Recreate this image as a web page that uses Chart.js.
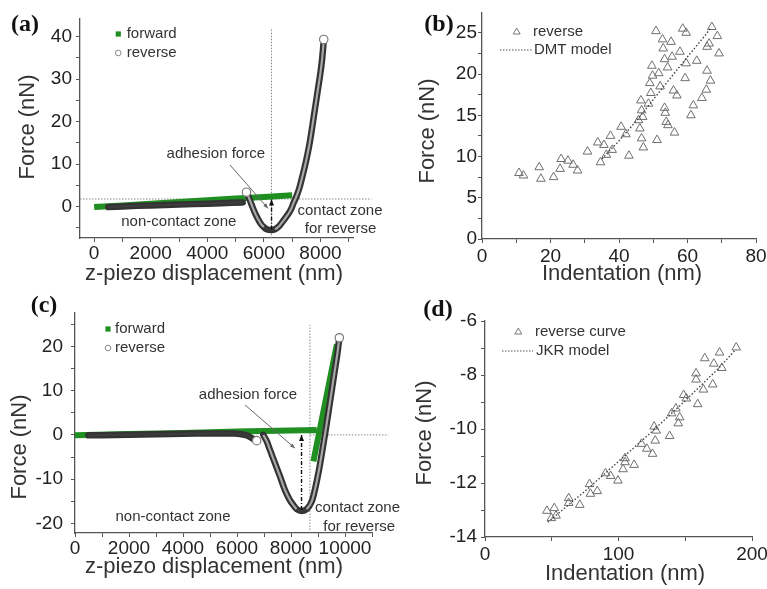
<!DOCTYPE html>
<html>
<head>
<meta charset="utf-8">
<title>AFM force curves</title>
<script src="https://cdn.jsdelivr.net/npm/chart.js@4.4.1/dist/chart.umd.min.js"></script>
<style>
html, body { margin:0; padding:0; background:#ffffff; }
#fig { position:relative; width:767px; height:589px; overflow:hidden; background:#ffffff; }
#fig canvas { position:absolute; left:0; top:0; width:767px; height:589px; }
</style>
</head>
<body>
<div id="fig">
  <canvas id="pa" width="767" height="589"></canvas>
  <canvas id="pb" width="767" height="589"></canvas>
  <canvas id="pc" width="767" height="589"></canvas>
  <canvas id="pd" width="767" height="589"></canvas>
</div>
<script>
// ---------------- DATA ----------------
// Panel (a): force vs z-piezo displacement
const aForwardX = [0, 1000, 2000, 3000, 4000, 5000, 6000, 7000];
const aForwardY = [-0.1, 0.3, 0.7, 1.1, 1.5, 1.9, 2.3, 2.7];
const aReverseX = [500, 1500, 2500, 3500, 4500, 5250, 5320, 5385, 5500, 5600, 5700, 5800, 5900, 6000, 6100, 6250, 6400, 6560, 6700, 6800, 6900, 6975, 7050, 7150, 7250, 7330, 7420, 7500, 7600, 7680, 7760, 7840, 7920, 8000, 8060, 8110];
const aReverseY = [-0.1, 0.2, 0.4, 0.6, 0.8, 1.0, null, 3.4, 1.6, -0.1, -1.7, -3.0, -4.1, -4.8, -5.3, -5.5, -5.3, -4.4, -3.2, -2.3, -1.3, -0.4, 0.9, 2.4, 4.3, 6.3, 8.7, 11.0, 14.3, 17.5, 21.0, 24.5, 28.0, 31.5, 34.8, 38.5];
const aReverseEndX = [5385, 8115];
const aReverseEndY = [3.4, 39.3];
const aRefHX = [-500, 9800];
const aRefHY = [1.8, 1.8];
const aRefVX = [6270, 6270];
const aRefVY = [-7.4, 42];
const aXTicks = [0, 1000, 2000, 3000, 4000, 5000, 6000, 7000, 8000, 9000];
const aXLabels = [0, 2000, 4000, 6000, 8000];
const aYTicks = [-5, 0, 5, 10, 15, 20, 25, 30, 35, 40];
const aYLabels = [0, 10, 20, 30, 40];

// Panel (b): indentation fit (DMT)
const bReverseX = [10.8, 12.1, 16.7, 17.2, 20.9, 22.8, 23.1, 25.1, 26.6, 27.9, 30.8, 33.8, 34.6, 35.6, 36.3, 37.5, 38.0, 40.6, 42.0, 42.9, 45.7, 46.1, 46.4, 46.6, 46.6, 46.9, 47.1, 48.6, 49.0, 49.3, 49.8, 49.6, 50.8, 51.1, 51.6, 52.0, 52.7, 52.9, 53.3, 53.3, 53.5, 53.8, 54.2, 54.3, 55.2, 55.5, 55.9, 56.2, 56.9, 57.8, 58.6, 59.3, 59.6, 59.6, 61.0, 61.7, 62.7, 64.2, 65.5, 65.7, 65.7, 66.3, 66.7, 67.1, 68.7, 69.2];
const bReverseY = [8.0, 7.7, 8.7, 7.3, 7.5, 8.5, 9.7, 9.5, 9.0, 8.3, 10.6, 11.7, 9.3, 11.4, 10.2, 12.5, 10.8, 13.6, 12.7, 10.1, 14.4, 13.4, 16.8, 15.6, 12.2, 14.8, 11.1, 16.4, 18.9, 17.7, 19.8, 21.0, 25.2, 12.0, 20.1, 18.5, 24.2, 23.1, 21.8, 15.9, 15.3, 14.2, 20.8, 13.8, 23.9, 22.1, 18.0, 12.9, 17.4, 22.7, 25.5, 19.5, 25.0, 21.3, 15.0, 16.2, 21.6, 17.1, 18.1, 20.4, 23.3, 23.7, 19.2, 25.7, 24.6, 22.5];
const bModelX = [35, 40, 45, 50, 55, 60, 65, 67];
const bModelY = [9.7, 11.9, 14.3, 16.9, 19.5, 22.1, 24.6, 25.7];
const bXTicks = [0, 10, 20, 30, 40, 50, 60, 70, 80];
const bXLabels = [0, 20, 40, 60, 80];
const bYTicks = [0, 2.5, 5, 7.5, 10, 12.5, 15, 17.5, 20, 22.5, 25];
const bYLabels = [0, 5, 10, 15, 20, 25];

// Panel (c): force vs z-piezo displacement
const cForwardX = [0, 2000, 4000, 6000, 8950, 8900, 8830, 9700];
const cForwardY = [-0.1, 0.2, 0.45, 0.75, 1.1, null, -6.0, 20.5];
const cReverseX = [500, 1500, 2500, 3500, 4500, 5500, 5900, 6360, 6550, 6730, 6850, 6975, 7100, 7222, 7407, 7593, 7778, 7963, 8100, 8210, 8395, 8580, 8765, 8900, 9020, 9120, 9220, 9320, 9420, 9520, 9620, 9720, 9790];
const cReverseY = [-0.1, 0.0, 0.1, 0.2, 0.3, 0.35, 0.3, -0.1, -0.7, -1.3, null, 0.0, -1.4, -3.4, -6.4, -9.4, -12.5, -14.8, -16.0, -16.8, -17.2, -16.8, -15.1, -12.0, -8.5, -5.0, -1.3, 2.5, 6.5, 10.5, 14.5, 18.5, 22.0];
const cReverseEndX = [6730, 9790];
const cReverseEndY = [-1.3, 22.0];
const cRefHX = [8700, 11600];
const cRefHY = [0, 0];
const cRefVX = [8700, 8700];
const cRefVY = [-22.2, 24.9];
const cXTicks = [0, 1000, 2000, 3000, 4000, 5000, 6000, 7000, 8000, 9000, 10000, 11000];
const cXLabels = [0, 2000, 4000, 6000, 8000, 10000];
const cYTicks = [-20, -15, -10, -5, 0, 5, 10, 15, 20, 25];
const cYLabels = [-20, -10, 0, 10, 20];

// Panel (d): indentation fit (JKR)
const dReverseX = [46.4, 49.7, 51.9, 53.2, 62.7, 62.7, 71.0, 78.3, 79.0, 84.1, 90.3, 94.1, 99.6, 103.4, 104.9, 104.9, 111.7, 117.2, 121.2, 125.5, 126.7, 127.5, 128.2, 138.3, 139.8, 143.0, 144.8, 145.8, 148.8, 150.8, 158.1, 158.1, 159.3, 163.6, 164.6, 170.6, 171.4, 175.7, 177.4, 188.2];
const dReverseY = [-13.03, -13.30, -12.93, -13.21, -12.56, -12.74, -12.81, -12.04, -12.40, -12.30, -11.64, -11.74, -11.91, -11.49, -11.08, -11.23, -11.33, -10.55, -10.73, -10.92, -9.91, -10.43, -10.06, -10.26, -9.42, -9.24, -9.79, -9.57, -8.74, -8.87, -7.94, -8.17, -9.08, -8.54, -7.38, -8.35, -7.58, -7.17, -7.74, -6.98];
const dModelX = [47, 75, 100, 125, 150, 175, 188];
const dModelY = [-13.45, -12.3, -11.2, -10.1, -8.95, -7.75, -7.05];
const dXTicks = [0, 50, 100, 150, 200];
const dXLabels = [0, 100, 200];
const dYTicks = [-14, -13, -12, -11, -10, -9, -8, -7, -6];
const dYLabels = [-14, -12, -10, -8, -6];

// ---------------- STYLE / HELPERS ----------------
const FONT = '"Liberation Sans", Arial, Helvetica, sans-serif';
const SERIF = '"Liberation Serif", "Times New Roman", Times, serif';
const GREEN = '#1f8f22';
const TXT = '#333333';
const AXIS = '#555555';
const CW = 767, CH = 589, YW = 50, XH = 40;

const pts = (xs, ys) => xs.map((x, i) => ({ x: x, y: ys[i] }));

function axisCfg(s, which) {
  return {
    type: 'linear', position: which === 'x' ? 'bottom' : 'left', min: s.min, max: s.max,
    afterBuildTicks: sc => { sc.ticks = s.ticks.map(v => ({ value: v })); },
    afterFit: sc => {
      if (which === 'x') { sc.height = XH; sc.paddingLeft = 0; sc.paddingRight = 0; }
      else { sc.width = YW; sc.paddingTop = 0; sc.paddingBottom = 0; }
    },
    ticks: {
      autoSkip: false, maxRotation: 0, minRotation: 0, padding: s.pad, color: '#222',
      font: { family: FONT, size: 19 },
      callback: v => s.labels.includes(v) ? String(v) : ''
    },
    grid: { drawOnChartArea: false, drawTicks: true, tickLength: 4, tickColor: AXIS, tickWidth: 1 },
    border: { display: true, color: AXIS, width: 1.3 },
    title: { display: false }
  };
}

function T(ctx, text, x, y, o) {
  o = o || {};
  ctx.save();
  ctx.font = (o.weight ? o.weight + ' ' : '') + (o.size || 15) + 'px ' + (o.family || FONT);
  ctx.fillStyle = o.color || TXT;
  ctx.textAlign = o.align || 'center';
  ctx.textBaseline = 'middle';
  if (o.rot) { ctx.translate(x, y); ctx.rotate(o.rot); ctx.fillText(text, 0, 0); }
  else ctx.fillText(text, x, y);
  ctx.restore();
}
function V(chart, x, y) { return [chart.scales.x.getPixelForValue(x), chart.scales.y.getPixelForValue(y)]; }
function arrowLine(ctx, p0, p1, o) {
  ctx.save();
  ctx.strokeStyle = o.color; ctx.fillStyle = o.color; ctx.lineWidth = o.width;
  ctx.setLineDash(o.dash || []);
  ctx.beginPath(); ctx.moveTo(p0[0], p0[1]); ctx.lineTo(p1[0], p1[1]); ctx.stroke();
  ctx.setLineDash([]);
  const a = Math.atan2(p1[1] - p0[1], p1[0] - p0[0]), L = o.head, w = o.headW;
  ctx.beginPath();
  ctx.moveTo(p1[0], p1[1]);
  ctx.lineTo(p1[0] - L * Math.cos(a) + w * Math.sin(a), p1[1] - L * Math.sin(a) - w * Math.cos(a));
  ctx.lineTo(p1[0] - L * Math.cos(a) - w * Math.sin(a), p1[1] - L * Math.sin(a) + w * Math.cos(a));
  ctx.closePath(); ctx.fill();
  ctx.restore();
}
function legSquare(ctx, x, y) { ctx.save(); ctx.fillStyle = GREEN; ctx.fillRect(x - 2.6, y - 2.6, 5.2, 5.2); ctx.restore(); }
function legCircle(ctx, x, y) { ctx.save(); ctx.strokeStyle = '#888'; ctx.lineWidth = 1; ctx.beginPath(); ctx.arc(x, y, 2.8, 0, Math.PI * 2); ctx.stroke(); ctx.restore(); }
function legTri(ctx, x, y, r) {
  ctx.save(); ctx.strokeStyle = '#777'; ctx.lineWidth = 1; ctx.beginPath();
  for (let k = 0; k < 3; k++) { const a = k * 2 * Math.PI / 3; const px = x + Math.sin(a) * r, py = y - Math.cos(a) * r; k ? ctx.lineTo(px, py) : ctx.moveTo(px, py); }
  ctx.closePath(); ctx.stroke(); ctx.restore();
}
function legDots(ctx, x0, x1, y) {
  ctx.save(); ctx.strokeStyle = '#555'; ctx.lineWidth = 1.2; ctx.setLineDash([1.5, 1.5]);
  ctx.beginPath(); ctx.moveTo(x0, y); ctx.lineTo(x1, y); ctx.stroke(); ctx.restore();
}

const innerSeg = ctx => {
  const dx = Math.abs(ctx.p1.x - ctx.p0.x), dy = Math.abs(ctx.p1.y - ctx.p0.y);
  return dy > dx * 0.8 ? '#a8a8a8' : '#3c3c3c';
};

function refLine(xs, ys) {
  return { data: pts(xs, ys), showLine: true, borderColor: '#8a8a8a', borderWidth: 1, borderDash: [1.5, 1.5], pointRadius: 0, clip: false, order: 10 };
}
function forceSets(fx, fy, rx, ry, ex, ey) {
  return [
    { data: pts(fx, fy), showLine: true, borderColor: GREEN, borderWidth: 6, pointRadius: 0, order: 6 },
    { data: pts(rx, ry), showLine: true, borderColor: '#333333', borderWidth: 6.5, pointRadius: 0, tension: 0.3, borderCapStyle: 'round', borderJoinStyle: 'round', order: 4 },
    { data: pts(rx, ry), showLine: true, borderColor: '#a8a8a8', borderWidth: 2.2, pointRadius: 0, tension: 0.3, segment: { borderColor: innerSeg }, order: 3 },
    { data: pts(ex, ey), showLine: false, pointRadius: 4.2, pointBorderColor: '#7a7a7a', pointBackgroundColor: '#ffffff', pointBorderWidth: 1.2, order: 1 }
  ];
}

function makeChart(id, cfg) {
  const a = cfg.area;
  return new Chart(document.getElementById(id), {
    type: 'scatter',
    data: { datasets: cfg.datasets },
    options: {
      responsive: false, animation: false, devicePixelRatio: 1, events: [],
      layout: { autoPadding: false, padding: { left: a.l - YW, top: a.t, right: CW - a.r, bottom: CH - a.b - XH } },
      plugins: { legend: { display: false }, tooltip: { enabled: false } },
      scales: { x: axisCfg(cfg.x, 'x'), y: axisCfg(cfg.y, 'y') }
    },
    plugins: [{ id: 'extras_' + id, afterDraw(chart) { cfg.draw(chart, chart.ctx); } }]
  });
}

// ---------------- PANEL (a) ----------------
makeChart('pa', {
  area: { l: 80, t: 19, r: 353, b: 238 },
  x: { min: -500, max: 9150, ticks: aXTicks, labels: aXLabels, pad: 0 },
  y: { min: -7.36, max: 44.1, ticks: aYTicks, labels: aYLabels, pad: 4 },
  datasets: [refLine(aRefHX, aRefHY), refLine(aRefVX, aRefVY)].concat(forceSets(aForwardX, aForwardY, aReverseX, aReverseY, aReverseEndX, aReverseEndY)),
  draw(chart, ctx) {
    T(ctx, '(a)', 25, 25, { size: 24, weight: 'bold', family: SERIF, color: '#111' });
    T(ctx, 'Force (nN)', 28, 127, { size: 22, rot: -Math.PI / 2 });
    T(ctx, 'z-piezo displacement (nm)', 214, 274, { size: 22 });
    legSquare(ctx, 118.3, 34); T(ctx, 'forward', 126.7, 34, { size: 15, align: 'left' });
    legCircle(ctx, 118.3, 53); T(ctx, 'reverse', 126.7, 53, { size: 15, align: 'left' });
    arrowLine(ctx, V(chart, 6270, -5.4), V(chart, 6270, 1.7), { color: '#111', width: 1.4, dash: [4, 2, 1, 2], head: 6, headW: 2.5 });
    arrowLine(ctx, V(chart, 4802, 9.8), V(chart, 6148, -0.4), { color: '#666', width: 1, head: 5, headW: 2 });
    let p = V(chart, 4300, 12.4); T(ctx, 'adhesion force', p[0], p[1], { size: 15 });
    p = V(chart, 2993, -3.5); T(ctx, 'non-contact zone', p[0], p[1], { size: 15 });
    p = V(chart, 7187, -0.94); T(ctx, 'contact zone', p[0], p[1], { size: 15, align: 'left' });
    p = V(chart, 7445, -5.3); T(ctx, 'for reverse', p[0], p[1], { size: 15, align: 'left' });
  }
});

// ---------------- PANEL (b) ----------------
makeChart('pb', {
  area: { l: 482, t: 13, r: 756, b: 239 },
  x: { min: 0, max: 80, ticks: bXTicks, labels: bXLabels, pad: 2 },
  y: { min: 0, max: 27.4, ticks: bYTicks, labels: bYLabels, pad: 1 },
  datasets: [
    { data: pts(bReverseX, bReverseY), showLine: false, pointStyle: 'triangle', pointRadius: 5, pointBorderColor: '#6f6f6f', pointBackgroundColor: 'rgba(0,0,0,0)', pointBorderWidth: 1, order: 2 },
    { data: pts(bModelX, bModelY), showLine: true, borderColor: '#444', borderWidth: 1.4, borderDash: [1.5, 2], pointRadius: 0, order: 1 }
  ],
  draw(chart, ctx) {
    T(ctx, '(b)', 439, 25, { size: 24, weight: 'bold', family: SERIF, color: '#111' });
    T(ctx, 'Force (nN)', 428, 131, { size: 22, rot: -Math.PI / 2 });
    T(ctx, 'Indentation (nm)', 622, 274, { size: 22 });
    legTri(ctx, 516.7, 32, 4); T(ctx, 'reverse', 533, 32, { size: 15, align: 'left' });
    legDots(ctx, 500, 532, 50); T(ctx, 'DMT model', 534, 50, { size: 15, align: 'left' });
  }
});

// ---------------- PANEL (c) ----------------
makeChart('pc', {
  area: { l: 75, t: 313, r: 372, b: 533 },
  x: { min: 0, max: 11000, ticks: cXTicks, labels: cXLabels, pad: 0 },
  y: { min: -22.2, max: 27.6, ticks: cYTicks, labels: cYLabels, pad: 8 },
  datasets: [refLine(cRefHX, cRefHY), refLine(cRefVX, cRefVY)].concat(forceSets(cForwardX, cForwardY, cReverseX, cReverseY, cReverseEndX, cReverseEndY)),
  draw(chart, ctx) {
    T(ctx, '(c)', 44, 306, { size: 24, weight: 'bold', family: SERIF, color: '#111' });
    T(ctx, 'Force (nN)', 20, 447, { size: 22, rot: -Math.PI / 2 });
    T(ctx, 'z-piezo displacement (nm)', 214, 567, { size: 22 });
    legSquare(ctx, 108, 329); T(ctx, 'forward', 115, 329, { size: 15, align: 'left' });
    legCircle(ctx, 108, 348); T(ctx, 'reverse', 115, 348, { size: 15, align: 'left' });
    arrowLine(ctx, V(chart, 8390, -17.0), V(chart, 8390, 0.0), { color: '#111', width: 1.4, dash: [4, 2, 1, 2], head: 6, headW: 2.5 });
    arrowLine(ctx, V(chart, 6296, 6.8), V(chart, 8148, -3.0), { color: '#666', width: 1, head: 5, headW: 2 });
    let p = V(chart, 6407, 9.06); T(ctx, 'adhesion force', p[0], p[1], { size: 15 });
    p = V(chart, 3630, -18.6); T(ctx, 'non-contact zone', p[0], p[1], { size: 15 });
    p = V(chart, 8889, -16.5); T(ctx, 'contact zone', p[0], p[1], { size: 15, align: 'left' });
    p = V(chart, 9196, -20.8); T(ctx, 'for reverse', p[0], p[1], { size: 15, align: 'left' });
  }
});

// ---------------- PANEL (d) ----------------
makeChart('pd', {
  area: { l: 485, t: 321, r: 752, b: 537 },
  x: { min: 0, max: 200, ticks: dXTicks, labels: dXLabels, pad: 2 },
  y: { min: -14, max: -6, ticks: dYTicks, labels: dYLabels, pad: 4 },
  datasets: [
    { data: pts(dReverseX, dReverseY), showLine: false, pointStyle: 'triangle', pointRadius: 5, pointBorderColor: '#6f6f6f', pointBackgroundColor: 'rgba(0,0,0,0)', pointBorderWidth: 1, order: 2 },
    { data: pts(dModelX, dModelY), showLine: true, borderColor: '#444', borderWidth: 1.4, borderDash: [1.5, 2], pointRadius: 0, order: 1 }
  ],
  draw(chart, ctx) {
    T(ctx, '(d)', 438, 310, { size: 24, weight: 'bold', family: SERIF, color: '#111' });
    T(ctx, 'Force (nN)', 425, 433, { size: 22, rot: -Math.PI / 2 });
    T(ctx, 'Indentation (nm)', 625, 574, { size: 22 });
    legTri(ctx, 518.3, 332, 4); T(ctx, 'reverse curve', 535, 332, { size: 15, align: 'left' });
    legDots(ctx, 502, 533, 351); T(ctx, 'JKR model', 536, 351, { size: 15, align: 'left' });
  }
});
</script>
</body>
</html>
